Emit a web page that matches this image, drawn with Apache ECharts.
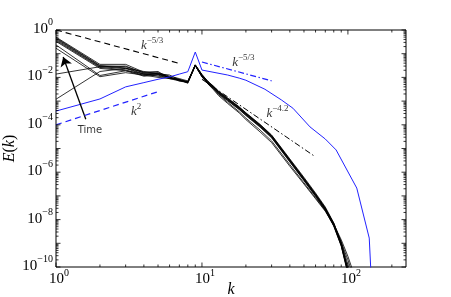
<!DOCTYPE html>
<html><head><meta charset="utf-8">
<script src="https://cdn.jsdelivr.net/npm/echarts@6/dist/echarts.min.js"></script>
<style>html,body{margin:0;padding:0;background:#fff}#c{width:451px;height:297px}</style>
</head><body><div id="c"></div>
<script>
// wavenumbers at which the black spectra were read
const K = [1,2,3,4,5,6,7,8,9,10,11,12,13,15,18,20,25,30,40,50,60,70,80,90,100,110];
// log10 E(k) of each black spectrum
const black1  = [-0.30,-1.45,-1.45,-1.78,-1.75,-2.05,-2.10,-2.20,-1.47,-1.88,-2.17,-2.37,-2.58,-2.87,-3.24,-3.49,-3.98,-4.43,-5.44,-6.22,-6.88,-7.47,-8.14,-8.98,-10.1,-11.5];
const black2  = [-0.33,-1.50,-1.55,-1.80,-1.80,-1.95,-2.05,-2.15,-1.48,-1.90,-2.19,-2.39,-2.61,-2.90,-3.27,-3.52,-4.01,-4.46,-5.48,-6.27,-6.93,-7.52,-8.19,-9.03,-10.15,-11.5];
const black3  = [-0.36,-1.52,-1.60,-1.85,-1.85,-1.90,-2.10,-2.18,-1.49,-1.92,-2.22,-2.42,-2.64,-2.93,-3.30,-3.55,-4.04,-4.49,-5.51,-6.30,-6.96,-7.55,-8.22,-9.06,-10.2,-11.5];
const black4  = [-0.40,-1.55,-1.62,-1.88,-1.88,-2.00,-2.12,-2.22,-1.50,-1.94,-2.24,-2.44,-2.66,-2.95,-3.32,-3.57,-4.06,-4.51,-5.53,-6.32,-6.98,-7.57,-8.24,-9.08,-10.2,-11.5];
const black5  = [-0.44,-1.58,-1.68,-1.92,-1.82,-1.98,-2.15,-2.20,-1.47,-1.88,-2.18,-2.38,-2.60,-2.89,-3.26,-3.51,-4.00,-4.45,-5.47,-6.26,-6.92,-7.51,-8.18,-9.02,-10.1,-11.5];
const black6  = [-0.48,-1.62,-1.72,-1.95,-1.90,-2.05,-2.08,-2.25,-1.50,-1.96,-2.26,-2.46,-2.68,-2.97,-3.34,-3.59,-4.08,-4.53,-5.55,-6.34,-7.00,-7.59,-8.26,-9.10,-10.25,-11.5];
const black7  = [-0.63,-1.92,-1.72,-1.85,-1.95,-2.02,-2.10,-2.20,-1.50,-1.95,-2.25,-2.48,-2.72,-3.05,-3.45,-3.72,-4.22,-4.68,-5.68,-6.45,-7.08,-7.62,-8.20,-8.85,-9.55,-10.3];
const black8  = [-0.77,-1.97,-1.80,-1.90,-2.00,-2.05,-2.15,-2.22,-1.50,-1.97,-2.28,-2.52,-2.77,-3.10,-3.50,-3.78,-4.30,-4.75,-5.75,-6.50,-7.12,-7.65,-8.25,-8.95,-9.70,-10.5];
const black9  = [-1.86,-1.55,-1.52,-1.82,-1.85,-2.00,-2.10,-2.18,-1.48,-1.91,-2.21,-2.41,-2.63,-2.92,-3.29,-3.54,-4.03,-4.48,-5.50,-6.29,-6.95,-7.54,-8.15,-8.95,-9.90,-11.0];
const black10 = [-2.92,-1.75,-1.62,-1.75,-1.85,-2.00,-2.12,-2.20,-1.51,-1.98,-2.28,-2.48,-2.70,-2.99,-3.36,-3.61,-4.10,-4.55,-5.57,-6.36,-7.02,-7.61,-8.28,-9.12,-10.3,-11.5];
const blackSpectra = [black1,black2,black3,black4,black5,black6,black7,black8,black9,black10];
// blue spectrum
const blueK   = [1,2,3,4,5,6,7,8,9,10,15,18,20,27,35,42,55,70,83,115,140,144];
const blueLog = [-3.42,-2.91,-2.40,-2.22,-2.08,-1.98,-1.86,-1.76,-0.93,-1.69,-1.90,-2.03,-2.12,-2.50,-2.95,-3.30,-4.09,-4.60,-5.06,-6.67,-8.78,-10.3];
// reference power laws (end points)
const ref53K = [1, 7],   ref53E = [1, 0.039];          // k^-5/3 black dashed
const ref2K  = [1, 5],   ref2E  = [1e-4, 2.5e-3];      // k^2 blue dashed
const refB53K = [10, 30], refB53E = [0.0447, 0.00716]; // k^-5/3 blue dash-dot
const ref42K = [10, 58], ref42E = [0.0083, 5.1e-6];    // k^-4.2 black dash-dot
// annotations
const annoK = [4.56, 3.54, 1.71, 19.2, 32.9];
const annoE = [0.257, 4.2e-4, 6e-5, 0.049, 3.5e-4];
const annoText = ['{i|k}{s|\u22125/3}', '{i|k}{s|2}', '{t|Time}', '{i|k}{s|\u22125/3}', '{i|k}{s|\u22124.2}'];
const arrowK = [1.6, 1.12], arrowE = [1.7e-4, 0.072];
// axis ranges and labelled decades
const xMin = 1, xMax = 250, yMin = 1e-10, yMax = 1;
const xLabelExp = [0, 1, 2];
const yLabelExp = [0, -2, -4, -6, -8, -10];

const SERIF = '"Liberation Serif","DejaVu Serif",serif';
const toE = a => a.map(v => Math.pow(10, v));

// tick marks (custom drawn so minor ticks fall on 2..9 x 10^n)
const tickData = [];
for (let e = 0; e <= 2; e++) {
  for (let m = 1; m <= 9; m++) { const v = m * Math.pow(10, e); if (v <= xMax) tickData.push([v, 1e-5, m === 1 ? 1 : 0, e]); }
}
for (let e = -10; e <= 0; e++) {
  for (let m = 1; m <= 9; m++) { const v = m * Math.pow(10, e); if (v <= yMax * 1.0001) tickData.push([2, v, m === 1 ? 3 : 2, e]); }
}
const labRich = {
  b: { fontFamily: SERIF, fontSize: 15, fill: '#000', verticalAlign: 'bottom', lineHeight: 19 },
  s: { fontFamily: SERIF, fontSize: 10, fill: '#000', verticalAlign: 'top', lineHeight: 19 }
};
const expText = e => '{b|10}{s|' + String(e).replace('-', '\u2212') + '}';

const series = [];
blackSpectra.forEach((arr) => {
  const E = toE(arr);
  series.push({ type: 'line', data: K.map((k, j) => [k, E[j]]), showSymbol: false, symbol: 'none',
    lineStyle: { color: '#000', width: 0.8 }, z: 3, silent: true });
});
const blueE = toE(blueLog);
series.push({ type: 'line', data: blueK.map((k, j) => [k, blueE[j]]), symbol: 'none',
  lineStyle: { color: '#2222ff', width: 1 }, z: 4, silent: true });
function refLine(ks, es, color, type, w) {
  return { type: 'line', data: ks.map((k, j) => [k, es[j]]), symbol: 'none',
    lineStyle: { color, type, width: w }, z: 5, silent: true };
}
series.push(refLine(ref53K, ref53E, '#000', [6, 4], 1.1));
series.push(refLine(ref2K, ref2E, '#2222ff', [6, 4], 1.2));
series.push(refLine(refB53K, refB53E, '#2222ff', [6, 2.5, 1.5, 2.5], 1.2));
series.push(refLine(ref42K, ref42E, '#000', [6, 2.5, 1.5, 2.5], 1));
series.push({
  type: 'scatter', symbolSize: 0, z: 6, silent: true,
  data: annoK.map((k, j) => ({ value: [k, annoE[j]], label: { formatter: annoText[j] } })),
  label: { show: true, position: 'inside', color: '#000',
    rich: {
      i: { fontFamily: SERIF, fontStyle: 'italic', fontSize: 13, verticalAlign: 'bottom', lineHeight: 16 },
      s: { fontFamily: SERIF, fontSize: 9, verticalAlign: 'top', lineHeight: 16 },
      t: { fontFamily: '"DejaVu Sans",sans-serif', fontSize: 10 }
    } },
  markLine: { silent: true, symbol: ['none', 'arrow'], symbolSize: 9, animation: false,
    lineStyle: { color: '#000', width: 1.3, type: 'solid' }, label: { show: false },
    data: [[{ coord: [arrowK[0], arrowE[0]] }, { coord: [arrowK[1], arrowE[1]] }]] }
});
series.push({
  type: 'custom', silent: true, z: 10, clip: false, data: tickData,
  encode: { x: 0, y: 1 },
  renderItem(params, api) {
    const cs = params.coordSys; const kind = api.value(2); const e = api.value(3);
    const major = kind === 1 || kind === 3; const len = major ? 4.5 : 2.5;
    const st = { stroke: '#000', lineWidth: 0.8 };
    const children = [];
    if (kind <= 1) {
      const px = api.coord([api.value(0), yMin])[0];
      children.push({ type: 'line', shape: { x1: px, y1: cs.y + cs.height, x2: px, y2: cs.y + cs.height - len }, style: st });
      children.push({ type: 'line', shape: { x1: px, y1: cs.y, x2: px, y2: cs.y + len }, style: st });
      if (major && xLabelExp.indexOf(e) >= 0)
        children.push({ type: 'text', style: { text: expText(e), rich: labRich, x: px + 3, y: cs.y + cs.height + 1, align: 'center', verticalAlign: 'top' } });
    } else {
      const py = api.coord([xMin, api.value(1)])[1];
      children.push({ type: 'line', shape: { x1: cs.x, y1: py, x2: cs.x + len, y2: py }, style: st });
      children.push({ type: 'line', shape: { x1: cs.x + cs.width, y1: py, x2: cs.x + cs.width - len, y2: py }, style: st });
      if (major && yLabelExp.indexOf(e) >= 0)
        children.push({ type: 'text', style: { text: expText(e), rich: labRich, x: cs.x - 3, y: py - 3, align: 'right', verticalAlign: 'middle' } });
    }
    return { type: 'group', children };
  }
});

const chart = echarts.init(document.getElementById('c'), null, { renderer: 'canvas' });
chart.setOption({
  animation: false,
  backgroundColor: '#fff',
  grid: { left: 56, right: 45, top: 30, bottom: 30, show: true, borderColor: '#000', borderWidth: 1,
    containLabel: false, outerBoundsMode: 'none' },
  xAxis: { type: 'log', logBase: 10, min: xMin, max: xMax,
    axisLine: { show: false }, axisTick: { show: false }, splitLine: { show: false }, axisLabel: { show: false },
    name: 'k', nameLocation: 'middle', nameGap: 15, nameMoveOverlap: false,
    nameTextStyle: { fontFamily: SERIF, fontStyle: 'italic', fontSize: 16, color: '#000', verticalAlign: 'top' } },
  yAxis: { type: 'log', logBase: 10, min: yMin, max: yMax,
    axisLine: { show: false }, axisTick: { show: false }, splitLine: { show: false }, axisLabel: { show: false },
    name: '{i|E}{n|(}{i|k}{n|)}', nameLocation: 'middle', nameGap: 38, nameMoveOverlap: false,
    nameTextStyle: { rich: {
      i: { fontFamily: SERIF, fontStyle: 'italic', fontSize: 16, color: '#000' },
      n: { fontFamily: SERIF, fontSize: 16, color: '#000' } } } },
  series
});
</script></body></html>
